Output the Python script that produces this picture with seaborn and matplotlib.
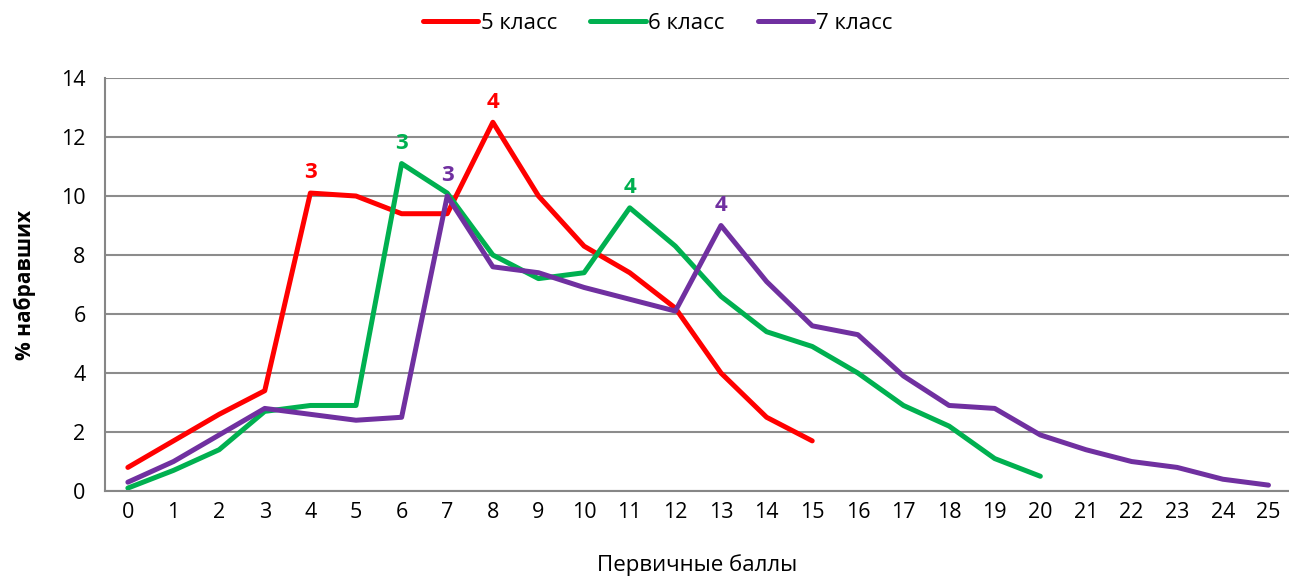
import pandas as pd
import matplotlib
matplotlib.use('Agg')
import matplotlib.pyplot as plt
import seaborn as sns

# Data
scores = list(range(26))
grade5 = [0.8, 1.7, 2.6, 3.4, 10.1, 10.0, 9.4, 9.4, 12.5, 10.0, 8.3, 7.4, 6.2, 4.0, 2.5, 1.7]
grade6 = [0.1, 0.7, 1.4, 2.7, 2.9, 2.9, 11.1, 10.1, 8.0, 7.2, 7.4, 9.6, 8.3, 6.6, 5.4, 4.9,
          4.0, 2.9, 2.2, 1.1, 0.5]
grade7 = [0.3, 1.0, 1.9, 2.8, 2.6, 2.4, 2.5, 10.0, 7.6, 7.4, 6.9, 6.5, 6.1, 9.0, 7.1, 5.6,
          5.3, 3.9, 2.9, 2.8, 1.9, 1.4, 1.0, 0.8, 0.4, 0.2]
series_names = ['5 класс', '6 класс', '7 класс']
colors = ['#FF0000', '#00B050', '#7030A0']

# grade marks: (series, score, label)
marks = [('5 класс', 4, '3'), ('5 класс', 8, '4'),
         ('6 класс', 6, '3'), ('6 класс', 11, '4'),
         ('7 класс', 7, '3'), ('7 класс', 13, '4')]

rows = []
for name, vals in zip(series_names, [grade5, grade6, grade7]):
    for x, v in zip(scores, vals):
        rows.append({'score': x, 'pct': v, 'grade': name})
df = pd.DataFrame(rows)

sns.set_style('white')
plt.rcParams['font.family'] = ['Open Sans', 'DejaVu Sans']
plt.rcParams['text.color'] = 'black'
plt.rcParams['xtick.color'] = 'black'
plt.rcParams['ytick.color'] = 'black'
plt.rcParams['axes.labelcolor'] = 'black'

fig = plt.figure(figsize=(12.89, 5.77), dpi=100)
ax = fig.add_axes([0.0815, 0.149, 0.9185, 0.7158])

sns.lineplot(data=df, x='score', y='pct', hue='grade', palette=colors,
             linewidth=3.6, ax=ax, legend=False, solid_capstyle='round')

lookup = {'5 класс': grade5, '6 класс': grade6, '7 класс': grade7}
for name, x, lab in marks:
    c = colors[series_names.index(name)]
    ax.annotate(lab, (x, lookup[name][x]), xytext=(0, 7), textcoords='offset points',
                ha='center', va='bottom', color=c, fontsize=16, fontweight='bold')

ax.set_xlim(-0.5, 25.45)
ax.set_ylim(0, 14)
ax.set_yticks(range(0, 15, 2))
ax.set_xticks(scores)
ax.set_xticklabels([str(s) for s in scores])
ax.set_xticks([s - 0.5 for s in scores], minor=True)
ax.tick_params(axis='x', which='major', length=0, labelsize=15.5, pad=8)
ax.tick_params(axis='x', which='minor', length=8, color='#868686', width=1.5)
ax.tick_params(axis='y', length=8, color='#868686', labelcolor='black', width=1.5,
               labelsize=15.5, pad=6)
ax.yaxis.grid(True, color='#8c8c8c', linewidth=1.5)
ax.set_axisbelow(True)
for s in ['top', 'right']:
    ax.spines[s].set_visible(False)
for s in ['left', 'bottom']:
    ax.spines[s].set_color('#868686')
    ax.spines[s].set_linewidth(1.5)

ax.set_xlabel('Первичные баллы', fontsize=16, labelpad=22)
ax.set_ylabel('% набравших', fontsize=15, fontweight='bold', labelpad=18)

handles = [plt.Line2D([0], [0], color=c, linewidth=3.6, solid_capstyle='round') for c in colors]
fig.legend(handles, series_names, loc='upper center', bbox_to_anchor=(0.51, 1.012), ncol=3,
           frameon=False, fontsize=16, handlelength=2.5, handletextpad=0.1, columnspacing=1.5)

fig.savefig('out.png', dpi=100)
